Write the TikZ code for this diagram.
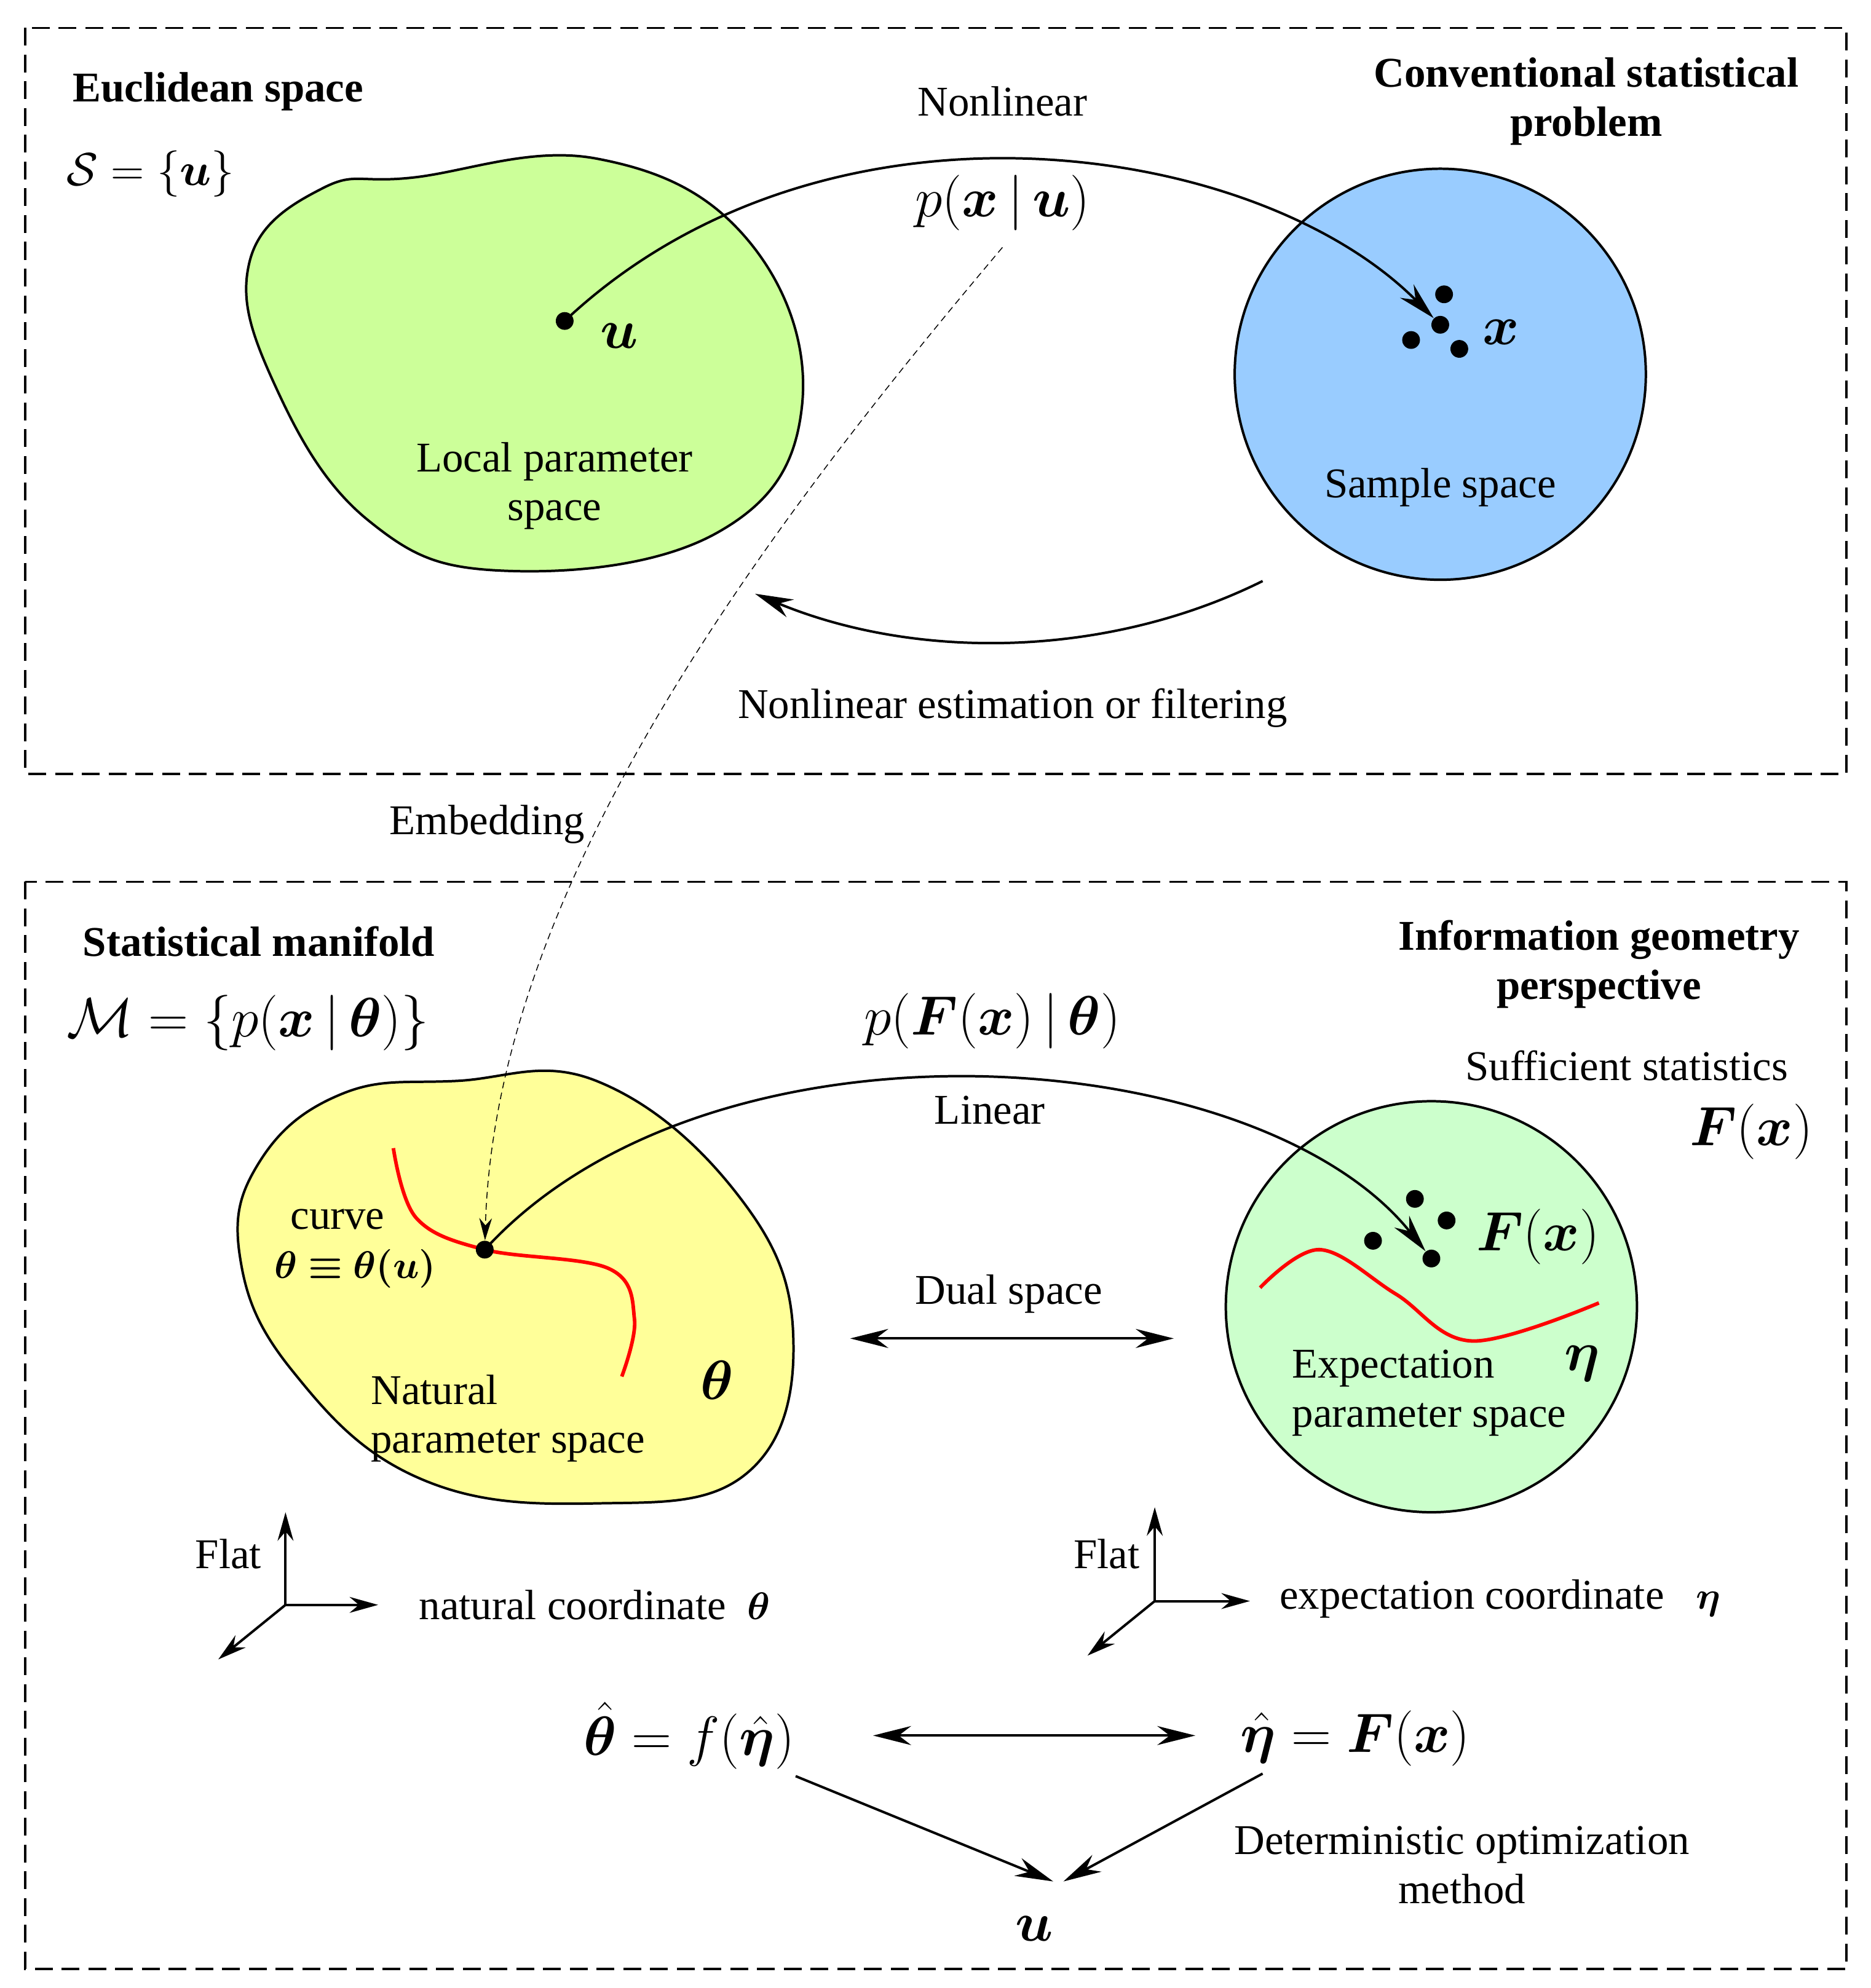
\documentclass[tikz,border=0pt]{standalone}
\usepackage{amsmath,amssymb,bm}
\usepackage{fontspec}
\setmainfont{Liberation Serif}
\usetikzlibrary{arrows.meta}
\definecolor{sky}{HTML}{99CCFF}
\definecolor{lgreen}{HTML}{CCFF99}
\definecolor{lyel}{HTML}{FFFF99}
\definecolor{mint}{HTML}{CCFFCC}
\begin{document}
\begin{tikzpicture}[x=0.02cm,y=-0.02cm,
  txt/.style={font=\fontsize{19}{22}\selectfont,align=center,inner sep=0},
  btxt/.style={font=\fontsize{19}{22}\selectfont\bfseries,align=center,inner sep=0},
  mth/.style={font=\fontsize{22}{26}\selectfont,inner sep=0},
  arr/.style={line width=1.1pt,-{Stealth[length=0.6cm,width=0.3cm]}},
  darr/.style={line width=1.1pt,{Stealth[length=0.6cm,width=0.3cm]}-{Stealth[length=0.6cm,width=0.3cm]}},
  box/.style={line width=1pt,dash pattern=on 8pt off 4pt},
  dot/.style={circle,fill=black,inner sep=0,minimum size=0.28cm}]
\useasboundingbox (0,0) rectangle (1474,1567);
\draw[box] (20,22) rectangle (1455,610);
\draw[box] (20,695) rectangle (1455,1552);
% blobs
\draw[line width=1.1pt,fill=lgreen] plot[smooth cycle,tension=0.7] coordinates {(197,205) (255,148) (325,140) (470,125) (590,190) (632,320) (565,420) (400,450) (290,410) (215,300)};
\draw[line width=1.1pt,fill=sky] (1135,295) circle[radius=162];
\draw[line width=1.1pt,fill=lyel] plot[smooth cycle,tension=0.7] coordinates {(205,915) (270,862) (360,852) (470,852) (580,940) (625,1050) (590,1160) (470,1185) (330,1165) (230,1080) (189,990)};
\draw[line width=1.1pt,fill=mint] (1128,1030) circle[radius=162];
% red curves
\draw[red,line width=1.6pt] plot[smooth,tension=0.6] coordinates {(310,905) (328,960) (382,985) (480,1000) (500,1040) (490,1085)};
\draw[red,line width=1.6pt] plot[smooth,tension=0.6] coordinates {(993,1015) (1040,985) (1100,1020) (1160,1057) (1260,1027)};
% dots
\node[dot] (u) at (445,253) {};
\node[dot] (x1) at (1138,232) {};
\node[dot] (x2) at (1112,268) {};
\node[dot] (x3) at (1135,256) {};
\node[dot] (x4) at (1150,275) {};
\node[dot] (th) at (382,985) {};
\node[dot] (f1) at (1115,945) {};
\node[dot] (f2) at (1140,962) {};
\node[dot] (f3) at (1082,978) {};
\node[dot] (f4) at (1128,992) {};
% texts
\node[btxt,anchor=west] (eu) at (57,72) {Euclidean space};
\node[mth,anchor=west] (S) at (52,137) {$\mathcal{S}=\{\bm{u}\}$};
\node[btxt] (csp) at (1250,80) {Conventional statistical\\problem};
\node[txt] (nl) at (790,80) {Nonlinear};
\node[mth,font=\fontsize{25}{30}\selectfont] (pxu) at (790,160) {$p(\bm{x}\,|\,\bm{u})$};
\node[mth,font=\fontsize{28}{32}\selectfont] (ul) at (488,265) {$\bm{u}$};
\node[mth,font=\fontsize{28}{32}\selectfont] (xl) at (1183,262) {$\bm{x}$};
\node[txt] (lps) at (437,383) {Local parameter\\space};
\node[txt] (ss) at (1135,384) {Sample space};
\node[txt] (nef) at (798,558) {Nonlinear estimation or filtering};
\node[txt] (emb) at (384,650) {Embedding};
\node[btxt,anchor=west] (sm) at (65,742) {Statistical manifold};
\node[mth,anchor=west,font=\fontsize{24}{28}\selectfont] (M) at (52,806) {$\mathcal{M}=\{p(\bm{x}\,|\,\bm{\theta})\}$};
\node[btxt] (igp) at (1260,760) {Information geometry\\perspective};
\node[txt] (suf) at (1282,840) {Sufficient statistics};
\node[mth,font=\fontsize{24}{28}\selectfont] (Fx0) at (1380,892) {$\bm{F}(\bm{x})$};
\node[mth,font=\fontsize{25}{30}\selectfont] (pF) at (782,805) {$p(\bm{F}(\bm{x})\,|\,\bm{\theta})$};
\node[txt] (lin) at (780,875) {Linear};
\node[txt] (crv) at (266,961) {curve};
\node[inner sep=0,font=\fontsize{16}{19}\selectfont] (thu) at (280,1000) {$\bm{\theta\equiv\theta(u)}$};
\node[txt] (dual) at (795,1020) {Dual space};
\node[mth,font=\fontsize{24}{28}\selectfont] (Fx1) at (1212,975) {$\bm{F}(\bm{x})$};
\node[txt,align=left,anchor=west] (nps) at (292,1118) {Natural\\parameter space};
\node[mth,font=\fontsize{26}{30}\selectfont] (thl) at (565,1088) {$\bm{\theta}$};
\node[txt,align=left,anchor=west] (eps) at (1018,1098) {Expectation\\parameter space};
\node[mth,font=\fontsize{26}{30}\selectfont] (etal) at (1247,1075) {$\bm{\eta}$};
\node[txt] (fl1) at (180,1225) {Flat};
\node[txt] (fl2) at (872,1225) {Flat};
\node[txt,anchor=west] (nc) at (330,1265) {natural coordinate \ $\bm{\theta}$};
\node[txt,anchor=west] (ec) at (1008,1260) {expectation coordinate \ \ $\bm{\eta}$};
\node[mth,font=\fontsize{25}{30}\selectfont] (th2) at (543,1368) {$\hat{\bm{\theta}}=f(\hat{\bm{\eta}})$};
\node[mth,font=\fontsize{25}{30}\selectfont] (eta2) at (1068,1370) {$\hat{\bm{\eta}}=\bm{F}(\bm{x})$};
\node[txt] (dom) at (1152,1470) {Deterministic optimization\\method};
\node[mth,font=\fontsize{26}{30}\selectfont] (u2) at (815,1520) {$\bm{u}$};
% axes
\coordinate (o1) at (225,1265); \coordinate (o2) at (910,1262);
\draw[arr,-{Stealth[length=0.45cm,width=0.25cm]}] (o1) -- (225,1192);
\draw[arr,-{Stealth[length=0.45cm,width=0.25cm]}] (o1) -- (298,1265);
\draw[arr,-{Stealth[length=0.45cm,width=0.25cm]}] (o1) -- (172,1308);
\draw[arr,-{Stealth[length=0.45cm,width=0.25cm]}] (o2) -- (910,1188);
\draw[arr,-{Stealth[length=0.45cm,width=0.25cm]}] (o2) -- (985,1262);
\draw[arr,-{Stealth[length=0.45cm,width=0.25cm]}] (o2) -- (857,1305);
% connectors
\draw[arr] (u.center) .. controls (650,60) and (990,110) .. (x3);
\coordinate (s1) at (995,458); \coordinate (s2) at (595,468);
\draw[arr] (s1) .. controls (870,520) and (720,520) .. (s2);
\coordinate (e0) at (790,195);
\draw[thin,dash pattern=on 3pt off 2pt,-{Stealth[length=0.35cm,width=0.2cm]}] (e0) .. controls (600,420) and (390,700) .. (th);
\draw[arr] (th.center) .. controls (560,790) and (990,820) .. (f4);
\coordinate (d1) at (670,1055); \coordinate (d2) at (925,1055);
\draw[darr] (d1) -- (d2);
\coordinate (b1) at (688,1368); \coordinate (b2) at (942,1368);
\draw[darr] (b1) -- (b2);
\coordinate (c1) at (627,1400); \coordinate (c2) at (995,1398);
\coordinate (t1) at (830,1483); \coordinate (t2) at (838,1483);
\draw[arr] (c1) -- (t1);
\draw[arr] (c2) -- (t2);
\end{tikzpicture}
\end{document}
